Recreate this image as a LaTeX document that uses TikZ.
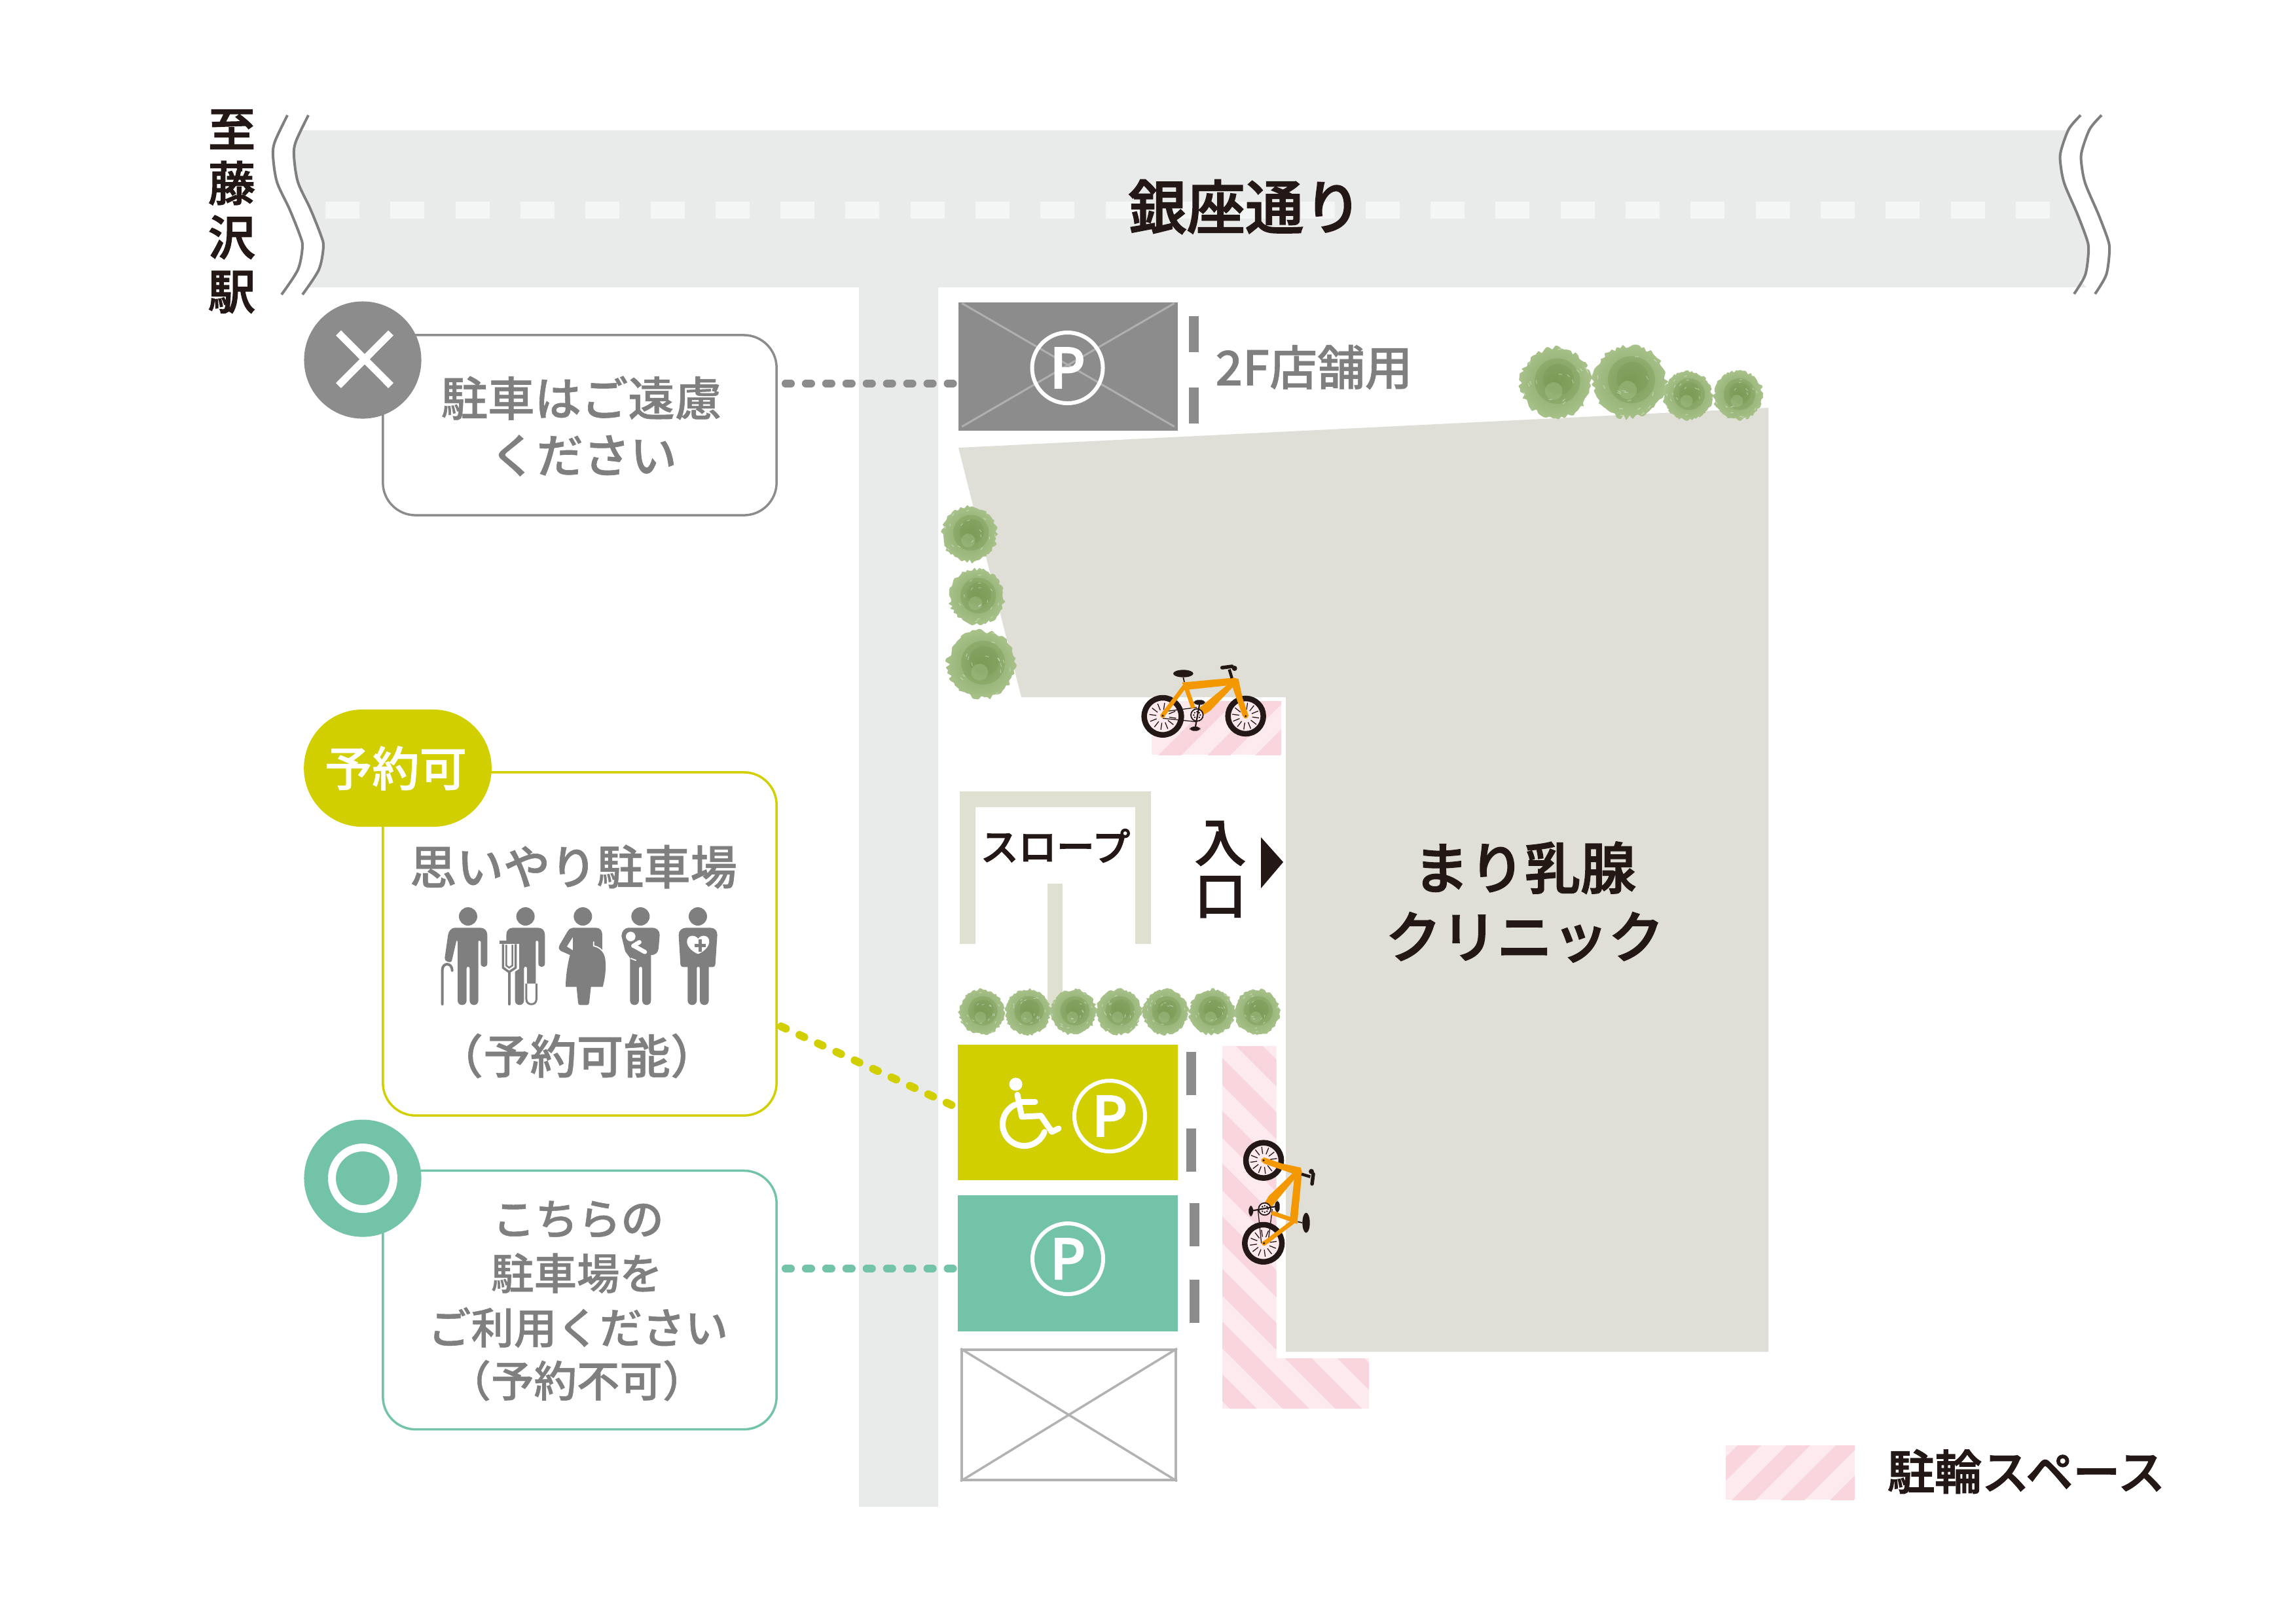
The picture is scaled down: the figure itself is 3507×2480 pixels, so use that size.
\documentclass[tikz,border=0pt]{standalone}
\usepackage{fontspec}
\newfontfamily\jpm{Noto Sans CJK JP Medium}[FakeBold=0.8]
\newfontfamily\jpd{Noto Sans CJK JP Medium}[FakeBold=2]
\definecolor{roadc}{HTML}{E9EBEA}
\definecolor{dashc}{HTML}{F4F6F5}
\definecolor{bldg}{HTML}{DFDFD8}
\definecolor{rampc}{HTML}{E0E0D0}
\definecolor{yel}{HTML}{D2CF00}
\definecolor{grn}{HTML}{73C3A8}
\definecolor{gry}{HTML}{8C8C8C}
\definecolor{tgry}{HTML}{7F7F7F}
\definecolor{blk}{HTML}{231815}
\definecolor{pinkl}{HTML}{FCEAEE}
\definecolor{pinkd}{HTML}{F9D5DD}
\definecolor{orng}{HTML}{F39800}
\definecolor{treeA}{HTML}{A8C28B}
\definecolor{treeB}{HTML}{86A562}
\definecolor{treeC}{HTML}{6C8E46}
\pgfdeclarelayer{base}
\pgfdeclarelayer{conn}
\pgfsetlayers{base,conn,main}
\tikzset{
  lw/.style={line width=#1*0.28453pt},
  callbox/.style={rectangle,rounded corners=14.2pt,fill=white,lw=3.5,minimum width=6.01cm,inner sep=0pt},
  badge/.style={circle,minimum size=1.79cm,inner sep=0pt},
  pcircle/.style={circle,draw=white,lw=6,minimum size=1.08cm,inner sep=0pt,text=white,font=\jpd\fontsize{24}{24}\selectfont},
  lot/.style={rectangle,inner sep=0pt,minimum width=3.35cm},
  note/.style={text=tgry,inner sep=0pt,align=center,font=\jpm\fontsize{20.3}{24}\selectfont},
  notes/.style={text=tgry,inner sep=0pt,align=center,font=\jpm\fontsize{18.6}{24}\selectfont},
  label/.style={text=blk,inner sep=0pt,align=center,font=\jpd\fontsize{20}{24}\selectfont},
  dotline/.style={lw=12,line cap=round,dash pattern=on 2.3pt off 6.5pt},
  wave/.style={draw=tgry,lw=4},
  markbar/.style={fill=gry},
}
\newcommand{\bush}[3]{%
  \begin{scope}[shift={(#1,#2)}]
    \shade[inner color=treeB,outer color=treeA] plot[smooth cycle,domain=0:355,samples=72]
      ({(#3*(0.89+0.13*rnd))*cos(\x)},{(#3*(0.89+0.13*rnd))*sin(\x)});
    \fill[treeC,opacity=.28] (0.05*#3,-0.05*#3) circle[radius=0.62*#3];
    \fill[treeC,opacity=.22] (0.08*#3,-0.1*#3) circle[radius=0.42*#3];
    \fill[treeA,opacity=.45] (-0.05*#3,0.22*#3) circle[radius=0.24*#3];
    \foreach \i in {1,...,16}{
      \pgfmathsetmacro\ra{rnd*360}
      \pgfmathsetmacro\rb{(0.25+rnd*0.7)*#3}
      \draw[white,opacity=.4,lw=1] (\ra:\rb) -- ++(\ra+80:0.1*#3);
    }
  \end{scope}}
\newcommand{\bikepic}{%
  \foreach \cx/\cy/\rr in {228/343/85,608/342/81}{
    \draw[blk,fill=pinkl,lw=8.5] (\cx,\cy) circle[radius=\rr];
    \foreach \a in {0,30,...,330}
      \draw[blk,lw=1.3] ({\cx+30*cos(\a+8)},{\cy+30*sin(\a+8)}) -- ({\cx+62*cos(\a+8)},{\cy+62*sin(\a+8)});
  }
  \draw[blk,lw=1.3] (228,322) -- (385,302) (228,352) -- (385,368);
  \fill[orng] (395,305) -- (520,202) -- (332,222) -- (316,188) -- (555,166) -- (575,172) -- (594,260) -- (622,342) -- (594,342) -- (548,210) -- (445,318) -- (415,336) -- cycle;
  \draw[orng,lw=6.5] (225,342) -- (328,205);
  \draw[orng,lw=6.5] (335,210) -- (368,305);
  \draw[blk,fill=pinkl,lw=1.8] (385,337) circle[radius=28];
  \foreach \a in {0,45,...,315} \fill[blk] ({385+15*cos(\a)},{337+15*sin(\a)}) circle[radius=4];
  \draw[blk,lw=2.2] (397,285) -- (377,395);
  \fill[blk,rounded corners=1.5pt] (370,268) rectangle (422,290);
  \fill[blk,rounded corners=1.5pt] (352,390) rectangle (400,410);
  \fill[blk] (322,147) ellipse[x radius=46,y radius=17];
  \draw[blk,lw=1.8,dash pattern=on 2pt off .5pt] (322,165) -- (328,190);
  \draw[blk,lw=4.5] (533,128) -- (545,168);
  \draw[blk,lw=5.5,line cap=round] (500,120) -- (546,114);
  \fill[blk] (557,123) circle[radius=12];
  \foreach \cx/\cy in {228/340,608/342}{
    \fill[orng] (\cx,\cy) circle[radius=11];
    \fill[blk] (\cx,\cy) circle[radius=5];}
}
\begin{document}
\begin{tikzpicture}[x=0.01cm,y=-0.01cm]
\useasboundingbox (0,0) rectangle (3507,2480);
\pgfmathsetseed{4242}
\begin{pgfonlayer}{base}
\fill[white] (0,0) rectangle (3507,2480);
% main road
\fill[roadc] (460,199) -- plot[smooth] coordinates {(460,199)(452,216)(449,238)(455,278)(474,319)(490,359)(494,377)(487,412)(470,439)}
  -- (3187,439) -- (3176,428) -- plot[smooth] coordinates {(3185,420)(3190,385)(3188,367)(3173,327)(3153,280)(3147,248)(3148,230)(3158,199)} -- cycle;
\fill[roadc] (1312,430) rectangle (1433,2302);
\foreach \n in {0,...,26} \fill[dashc] ({497+99.3*\n},307.5) rectangle ++(52,26);
% building
\fill[bldg] (1464,684) -- (2701,623) -- (2701,2065) -- (1964,2065) -- (1964,1065) -- (1560,1065) -- cycle;
\end{pgfonlayer}
% wavy ends
\foreach \dx in {0,-32}
  \draw[wave,xshift=\dx*0.01cm] plot[smooth] coordinates {(471,176)(452,216)(449,238)(455,278)(474,319)(490,359)(494,377)(487,412)(462,450)};
\foreach \dx in {0,32}
  \draw[wave,xshift=\dx*0.01cm] plot[smooth] coordinates {(3178,176)(3160,197)(3148,230)(3147,248)(3153,280)(3173,327)(3188,367)(3190,385)(3185,420)(3168,449)};
% ramp
\fill[rampc] (1466,1442) -- (1466,1209) -- (1758,1209) -- (1758,1442) -- (1734,1442) -- (1734,1233) -- (1490,1233) -- (1490,1442) -- cycle;
\fill[rampc] (1600,1350) rectangle (1623,1545);
% pink cycle areas
\begin{scope}
  \clip (1759,1071) rectangle (1957,1153);
  \fill[pinkl] (1759,1071) rectangle (1957,1153);
  \foreach \c/\w in {2923/35,2998/35,3071/38}
    \fill[pinkd] (1700,\c-1700) -- (2000,\c-2000) -- (2000,\c-2000+\w) -- (1700,\c-1700+\w) -- cycle;
\end{scope}
\begin{scope}
  \clip (1867,1598) -- (1949.5,1598) -- (1949.5,2075) -- (2091,2075) -- (2091,2152) -- (1867,2152) -- cycle;
  \fill[pinkl] (1867,1598) rectangle (2091,2152);
  \foreach \k in {-1,...,8}
    \fill[pinkd] (1800,{1800-290+80.5*\k}) -- (2150,{2150-290+80.5*\k}) -- (2150,{2150-331+80.5*\k}) -- (1800,{1800-331+80.5*\k}) -- cycle;
\end{scope}
\begin{scope}
  \clip (2636,2208) rectangle (2833,2291);
  \fill[pinkl] (2636,2208) rectangle (2833,2291);
  \foreach \k in {0,1,2,3}
    \fill[pinkd] (2500,{4862+75*\k-2500}) -- (2900,{4862+75*\k-2900}) -- (2900,{4862+75*\k-2900+36}) -- (2500,{4862+75*\k-2500+36}) -- cycle;
\end{scope}
% parking lots
\node[lot,fill=gry,minimum height=1.96cm,minimum width=3.35cm] (lotgrey) at (1631.5,560) {};
\draw[lw=3,draw=gry!70!white] ([xshift=.06cm,yshift=-.02cm]lotgrey.north west) -- ([xshift=-.06cm,yshift=.07cm]lotgrey.south east);
\draw[lw=3,draw=gry!70!white] ([xshift=.06cm,yshift=.07cm]lotgrey.south west) -- ([xshift=-.06cm,yshift=-.02cm]lotgrey.north east);
\node[pcircle] (pgrey) at (1630.5,562) {P};
\node[lot,fill=yel,minimum height=2.07cm] (lotyel) at (1631,1699.5) {};
\node[lot,fill=grn,minimum height=2.08cm] (lotgrn) at (1631,1930) {};
\node[lot,draw=black!30,lw=3.5,minimum width=3.27cm,minimum height=1.99cm] (lotfree) at (1632.5,2161.5) {};
\draw[black!30,lw=3.5] (lotfree.north west) -- (lotfree.south east) (lotfree.south west) -- (lotfree.north east);
\node[pcircle] (pyel) at (1695,1705) {P};
\node[pcircle] (pgrn) at (1631,1923) {P};
% wheelchair
\fill[white] (1551.5,1656.4) circle[radius=10];
\draw[white,lw=9,line cap=round,line join=round] (1554,1672.5) -- (1560.7,1706) -- (1590,1704.6) -- (1606.6,1729) -- (1617,1724);
\draw[white,lw=9,line cap=round] (1557,1683) -- (1581,1683);
\draw[white,lw=9,line cap=round] (1550.5,1687.6) arc[start angle=245,end angle=21,radius=33,x radius=33,y radius=33];
% lane bars
\foreach \xa/\ya/\yb in {1816/483/538,1816/592/647,1812/1607/1672.5,1812/1724/1790,1817/1838/1904,1817/1955/2021}
  \fill[markbar] (\xa,\ya) rectangle ++(15,\yb-\ya);
% trees
\foreach \tx/\ty/\tr in {2376/585/56,2489/583/58,2578/604/39,2655/604/39,1481/816/44,1492/912/44,1499/1015/54,1499.5/1546/36,1570/1546/36,1640/1546/36,1709/1546/36,1780/1546/36,1851/1546/36,1920/1546/36}
  \bush{\tx}{\ty}{\tr};
% bikes
\begin{scope}[cm={0.3333,0,0,0.3333,(1700,980)}]\bikepic\end{scope}
\begin{scope}[cm={0,0.3333,0.3333,0,(2044,1975.3)}]\bikepic\end{scope}
% entrance triangle
\fill[blk] (1926,1279) -- (1960,1317) -- (1926,1357) -- cycle;
% callouts
\node[callbox,draw=gry,minimum height=2.75cm] (cgrey) at (885.5,649.5) {};
\node[callbox,draw=yel,minimum height=5.24cm] (cyel) at (885.5,1442) {};
\node[callbox,draw=grn,minimum height=3.95cm] (cgrn) at (885.5,1986) {};
\node[badge,fill=gry] (bgrey) at (554,550) {};
\draw[white,lw=11] ([shift={(-37,-41.5)}]bgrey.center) -- ([shift={(43,39)}]bgrey.center);
\draw[white,lw=11] ([shift={(-37,39)}]bgrey.center) -- ([shift={(43,-41.5)}]bgrey.center);
\node[rectangle,rounded corners=25.4pt,fill=yel,minimum width=2.865cm,minimum height=1.79cm,inner sep=0pt,text=white,font=\jpm\fontsize{20.6}{24}\selectfont] (byel) at (607.5,1173.5) {\hspace{-.06cm}\raisebox{-.04cm}{予約可}};
\node[badge,fill=grn] (bgrn) at (554,1800) {};
\draw[white,lw=12] (bgrn.center) circle[radius=47];
% connectors
\coordinate (gyline) at (0,586);
\coordinate (gnline) at (0,1938);
\coordinate (yla) at (1193,1568);
\coordinate (ylb) at (1464,1693);
\begin{pgfonlayer}{conn}
\draw[gry,dotline] ([xshift=.12cm]cgrey.east |- gyline) -- (lotgrey.west |- gyline);
\draw[grn,dotline] ([xshift=.12cm]cgrn.east |- gnline) -- (lotgrn.west |- gnline);
\draw[yel,dotline] (yla) -- (ylb);
\end{pgfonlayer}
% texts
\node[label,font=\jpd\fontsize{25.4}{25.4}\selectfont] (troad) at (1902,316) {銀座通り};
\node[label,font=\jpd\fontsize{20.5}{23.5}\selectfont] (tstn) at (354,323) {至\\藤\\沢\\駅};
\node[note,font=\jpm\fontsize{20.7}{24}\selectfont] (t2f) at (2007,561) {2F店舗用};
\node[note] (tg1) at (888,608) {駐車はご遠慮};
\node[note] (tg2) at (891,696) {ください};
\node[note] (ty1) at (876,1324) {思いやり駐車場};
\node[note] (ty2) at (881,1613) {（予約可能）};
\node[notes] (tn1) at (883,1863) {こちらの};
\node[notes] (tn2) at (881,1945) {駐車場を};
\node[notes] (tn3) at (883,2028) {ご利用ください};
\node[notes] (tn4) at (881,2109) {（予約不可）};
\node[label,font=\jpd\fontsize{16.5}{18}\selectfont] (tslope) at (1612,1292) {スロープ};
\node[label,font=\jpd\fontsize{22.3}{23}\selectfont] (tent) at (1864,1328) {入\\口};
\node[label,font=\jpd\fontsize{24.2}{29.9}\selectfont] (tclin) at (2329,1378) {まり乳腺\\クリニック};
\node[label,font=\jpd\fontsize{20.5}{24}\selectfont] (tleg) at (3095,2248) {駐輪スペース};
% people
\begin{scope}[cm={0.3333,0,0,0.3333,(640,1360)}]
  \foreach \hx in {225,488,751,1015,1278} \fill[tgry] (\hx,120) circle[radius=42];
  % person with cane
  \fill[tgry] (165,172) -- (280,172) .. controls (300,172) and (313,185) .. (313,205) -- (313,335) .. controls (313,357) and (283,357) .. (283,335) -- (283,235) -- (275,230) -- (272,235) -- (272,505) .. controls (272,533) and (232,533) .. (232,505) -- (232,358) .. controls (232,348) and (218,348) .. (218,358) -- (218,505) .. controls (218,533) and (177,533) .. (177,505) -- (177,235) -- (172,230) -- (150,325) .. controls (145,335) and (115,328) .. (118,310) -- (133,205) .. controls (136,185) and (150,172) .. (165,172) -- cycle;
  \draw[tgry,lw=4,line cap=round] (107,522) -- (107,365) .. controls (107,330) and (152,330) .. (152,368);
  % person with crutch
  \fill[tgry] (430,172) -- (545,172) .. controls (565,172) and (577,185) .. (577,205) -- (577,335) .. controls (577,357) and (547,357) .. (547,335) -- (547,235) -- (540,230) -- (535,235) -- (535,505) -- (495,505) -- (495,358) .. controls (495,348) and (481,348) .. (481,358) -- (481,505) .. controls (481,533) and (440,533) .. (440,505) -- (440,235) -- (400,235) -- (400,205) .. controls (400,185) and (412,172) .. (430,172) -- cycle;
  \draw[white,lw=7] (380,245) -- (380,355) -- (413,378) -- (448,355) -- (448,245);
  \fill[white] (385,247) rectangle (444,355);
  \draw[tgry,lw=3.5,line join=round] (385,247) -- (385,355) -- (413,375) -- (443,355) -- (443,247);
  \draw[tgry,lw=2.5] (400,250) -- (400,345) -- (413,355) -- (428,345) -- (428,250);
  \draw[white,lw=6] (413,380) -- (413,525);
  \draw[tgry,lw=4,line cap=round] (413,375) -- (413,522);
  \fill[tgry] (368,230) rectangle (460,247);
  \draw[tgry,fill=white,lw=3] (492,428) -- (492,500) .. controls (492,530) and (538,530) .. (538,500) -- (538,428);
  % pregnant person
  \fill[tgry] (705,172) -- (810,172) .. controls (830,172) and (840,185) .. (840,205) -- (840,275) .. controls (858,300) and (862,370) .. (842,443) -- (788,443) -- (780,515) .. controls (779,523) and (775,526) .. (770,526) -- (738,526) .. controls (733,526) and (730,523) .. (729,515) -- (722,443) -- (672,443) .. controls (672,400) and (680,340) .. (692,297) -- (650,278) .. controls (640,270) and (638,262) .. (645,250) -- (680,190) .. controls (688,178) and (695,172) .. (705,172) -- cycle;
  \fill[white] (705,215) -- (705,275) -- (678,258) -- cycle;
  \draw[white,lw=1.8] (800,235) -- (800,255) .. controls (825,260) and (845,275) .. (855,305);
  % person with baby
  \fill[tgry] (960,172) -- (1068,172) .. controls (1090,172) and (1103,185) .. (1103,205) -- (1098,265) .. controls (1096,285) and (1085,297) .. (1063,297) -- (1063,505) .. controls (1063,533) and (1023,533) .. (1023,505) -- (1023,358) .. controls (1023,348) and (1008,348) .. (1008,358) -- (1008,505) .. controls (1008,533) and (967,533) .. (967,505) -- (967,310) -- (945,280) -- (928,210) .. controls (928,190) and (942,172) .. (960,172) -- cycle;
  \fill[white] (970,212) circle[radius=22];
  \draw[white,lw=6.5,line cap=round] (982,255) -- (1010,238);
  \draw[white,lw=6.5,line cap=round] (985,255) -- (1035,283);
  \draw[white,lw=1.8] (970,312) -- (995,322);
  % person with heart
  \fill[tgry] (1225,172) -- (1335,172) .. controls (1355,172) and (1367,185) .. (1367,205) -- (1358,340) .. controls (1358,348) and (1352,352) .. (1345,352) -- (1328,352) -- (1328,505) .. controls (1328,533) and (1287,533) .. (1287,505) -- (1287,358) .. controls (1287,348) and (1273,348) .. (1273,358) -- (1273,505) .. controls (1273,533) and (1231,533) .. (1231,505) -- (1231,352) -- (1212,352) .. controls (1204,352) and (1198,348) .. (1198,340) -- (1190,205) .. controls (1190,185) and (1205,172) .. (1225,172) -- cycle;
  \fill[white] (1279,222) .. controls (1295,200) and (1332,205) .. (1330,238) .. controls (1328,262) and (1300,285) .. (1279,292) .. controls (1258,285) and (1230,262) .. (1228,238) .. controls (1226,205) and (1263,200) .. (1279,222) -- cycle;
  \fill[tgry] (1281,224) rectangle (1297,282);
  \fill[tgry] (1263,245) rectangle (1313,261);
\end{scope}
\end{tikzpicture}
\end{document}
